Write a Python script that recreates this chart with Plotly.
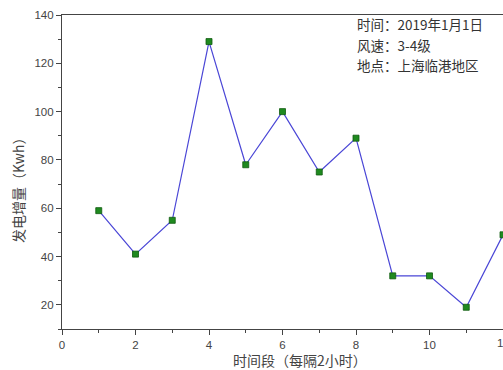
import plotly.graph_objects as go

periods = [1, 2, 3, 4, 5, 6, 7, 8, 9, 10, 11, 12]
energy = [59, 41, 55, 129, 78, 100, 75, 89, 32, 32, 19, 49]
x_ticks = [0, 2, 4, 6, 8, 10, 12]
info_lines = ["时间：2019年1月1日", "风速：3-4级", "地点：上海临港地区"]
x_title = "时间段（每隔2小时）"
y_title = "发电增量（Kwh）"

fig = go.Figure()
fig.add_trace(go.Scatter(
    x=periods, y=energy, mode="lines+markers",
    line=dict(color="#4a46d6", width=1.2),
    marker=dict(symbol="square", size=6, color="#1f8a1f",
                line=dict(color="#0f5a0f", width=0.8)),
    cliponaxis=False, showlegend=False,
))

cjk = "Noto Sans CJK SC"
tick_font = dict(family="Liberation Sans, Arial", size=11.5, color="#444")
axis_common = dict(
    showgrid=False, zeroline=False, showline=True, linecolor="#444",
    linewidth=1.2, ticks="outside", tickcolor="#444", ticklen=5, tickwidth=1.2,
    tickfont=tick_font,
)
fig.update_xaxes(range=[0, 12], tickvals=x_ticks[:-1], mirror=True,
                 minor=dict(dtick=1, ticks="outside", ticklen=3, tickcolor="#444"),
                 **axis_common)
fig.update_yaxes(range=[10, 140], dtick=20, tick0=0, mirror=True,
                 minor=dict(dtick=10, ticks="outside", ticklen=3, tickcolor="#444"),
                 **axis_common)

# last x tick label, which sits on the right edge of the canvas
fig.add_annotation(xref="x", yref="paper", x=x_ticks[-1], y=-0.046, xanchor="center",
                   yanchor="middle", text=str(x_ticks[-1]), showarrow=False,
                   font=tick_font)

# axis titles
fig.add_annotation(xref="paper", yref="paper", x=0.54, y=-0.098, xanchor="center",
                   yanchor="middle", text=x_title, showarrow=False,
                   font=dict(family=cjk, size=14, color="#444"))
fig.add_annotation(xref="paper", yref="paper", x=-0.1, y=0.455, xanchor="center",
                   yanchor="middle", text=y_title, showarrow=False, textangle=-90,
                   font=dict(family=cjk, size=14, color="#444"))

info_y = [0.97, 0.906, 0.842]
for txt, yy in zip(info_lines, info_y):
    fig.add_annotation(
        xref="paper", yref="paper", x=0.664, y=yy, xanchor="left", yanchor="middle",
        text=txt, align="left", showarrow=False,
        font=dict(family=cjk, size=13.5, color="#333"),
    )

fig.update_layout(
    width=503, height=370,
    margin=dict(l=62, r=0, t=15, b=41),
    plot_bgcolor="white", paper_bgcolor="white",
)
fig.write_html("out.html", config={"displayModeBar": False},
               post_script="document.body.style.margin='0px';document.body.style.overflow='hidden';")
